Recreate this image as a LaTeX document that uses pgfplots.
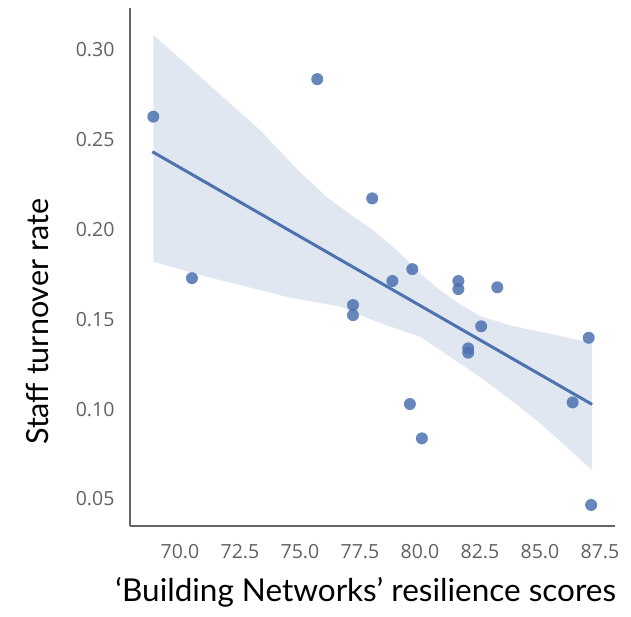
\documentclass[border=0pt]{standalone}
\usepackage{pgfplots}
\pgfplotsset{compat=1.18}
\usepackage{fontspec}
\setmainfont{Lato}
\newfontfamily\tickfont{Open Sans}
\definecolor{sbblue}{HTML}{4C72B0}
\definecolor{band}{HTML}{E1E7F1}
\definecolor{spine}{HTML}{666666}
\definecolor{ticktext}{HTML}{626262}
\begin{document}
\begin{tikzpicture}
\begin{axis}[
  scale only axis,
  width=485pt, height=518pt,
  xmin=67.92, xmax=88.125, ymin=0.035, ymax=0.3234,
  axis x line*=bottom, axis y line*=left,
  axis line style={draw=spine, line width=2pt, -},
  major tick length=0pt,
  xtick={70,72.5,75,77.5,80,82.5,85,87.5},
  ytick={0.05,0.10,0.15,0.20,0.25,0.30},
  /pgf/number format/assume math mode=true,
  xticklabel style={font=\tickfont\fontsize{19.5}{19.5}\selectfont, text=ticktext, yshift=-15pt,
    /pgf/number format/.cd, fixed, fixed zerofill, precision=1},
  yticklabel style={font=\tickfont\fontsize{19.5}{19.5}\selectfont, text=ticktext, xshift=-12pt,
    /pgf/number format/.cd, fixed, fixed zerofill, precision=2},
  xlabel={‘Building Networks’ resilience scores},
  ylabel={Staff turnover rate},
  xlabel style={font=\fontsize{31.5}{33}\selectfont, at={(axis description cs:0.486,-0.129)}, anchor=center},
  ylabel style={font=\fontsize{30.5}{32}\selectfont, at={(axis description cs:-0.19,0.394)}, anchor=center},
]
% confidence band (upper edge forward, lower edge backward)
\addplot[fill=band, draw=none] coordinates {
 (68.89,0.3084) (73.33,0.2555) (75.00,0.2320) (76.11,0.2183) (77.10,0.2085) (78.05,0.1998) (79.03,0.1886)
 (79.45,0.1831) (80.10,0.1745) (80.83,0.1664) (81.60,0.1590) (82.50,0.1519) (83.80,0.1465) (85.29,0.1424) (87.17,0.1369)
 (87.17,0.0661) (85.00,0.0923) (83.70,0.1060) (82.50,0.1179) (81.25,0.1292) (80.00,0.1404)
 (78.33,0.1480) (76.67,0.1571) (74.45,0.1626) (71.11,0.1738) (68.89,0.1821)
} -- cycle;
% scatter
\addplot[sbblue, only marks, mark=*, mark size=6pt, mark options={draw=sbblue, fill=sbblue, draw opacity=0, fill opacity=0.85}] coordinates {
 (68.89,0.2629) (75.72,0.2838) (78.01,0.2174) (70.50,0.1730) (79.68,0.1780)
 (78.85,0.1714) (81.60,0.1714) (81.60,0.1669) (83.22,0.1679) (82.55,0.1462)
 (82.01,0.1339) (82.01,0.1315) (87.03,0.1398) (86.36,0.1038) (79.58,0.1029)
 (80.08,0.0838) (87.13,0.0467) (77.21,0.1580) (77.21,0.1524)
};
% regression line
\addplot[sbblue, line width=3pt] coordinates {(68.85,0.2434) (87.17,0.1027)};
\end{axis}
\useasboundingbox (-130pt,-90pt) rectangle (501pt,526pt);
\end{tikzpicture}
\end{document}
